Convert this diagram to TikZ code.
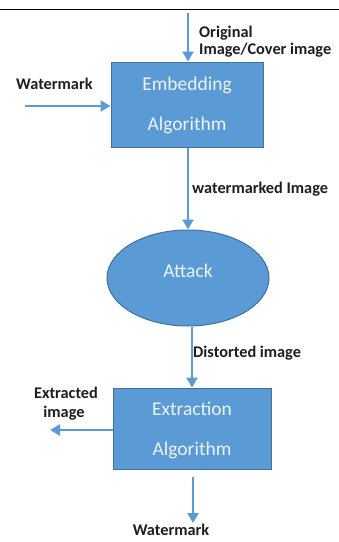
\documentclass[tikz,border=0pt]{standalone}
\usepackage{fontspec}
\setmainfont{Carlito}
\usetikzlibrary{shapes.geometric,arrows.meta}
\definecolor{blk}{HTML}{5B9BD5}
\definecolor{bord}{HTML}{41719C}
\definecolor{lbl}{HTML}{1E1E1E}
\definecolor{wtxt}{HTML}{EEF3FA}
\begin{document}
\begin{tikzpicture}[x=1pt,y=-1pt,
  procbox/.style={draw=bord,line width=1pt,fill=blk,minimum width=152pt,minimum height=85pt,inner sep=0pt},
  attackell/.style={ellipse,draw=bord,line width=1pt,fill=blk,minimum width=162pt,minimum height=96pt,inner sep=0pt},
  btxt/.style={text=wtxt,font=\fontsize{19.5}{21}\selectfont,inner sep=0pt},
  lab/.style={text=lbl,font=\bfseries\fontsize{16.3}{18}\selectfont,inner sep=0pt,anchor=west},
  flow/.style={draw=blk,line width=2.6pt,-{Triangle[length=10pt,width=11pt]}}]
\useasboundingbox (0,0) rectangle (339,542);
\draw[line width=0.8pt,black] (0,9) -- (339,9);
% nodes
\node[procbox] (emb) at (187,104.5) {};
\node[btxt] (embA) at (187,85) {Embedding};
\node[btxt] (embB) at (187,125) {Algorithm};
\node[attackell] (att) at (188,278) {};
\node[btxt] (attT) at (188,271) {Attack};
\node[procbox,minimum width=158pt,minimum height=81pt] (ext) at (192,428.5) {};
\node[btxt] (extA) at (192,409) {Extraction};
\node[btxt] (extB) at (192,450) {Algorithm};
% labels
\node[lab] (orig1) at (199,33) {Original};
\node[lab] (orig2) at (199,50) {Image/Cover image};
\node[lab] (wm) at (16,84) {Watermark};
\node[lab] (wmi) at (192,189) {watermarked Image};
\node[lab] (dist) at (193,353) {Distorted image};
\node[lab,anchor=center] (exi1) at (66,393) {Extracted};
\node[lab,anchor=center] (exi2) at (64,413) {image};
\node[lab,anchor=center] (wmo) at (171,530) {Watermark};
% connectors
\coordinate (topin) at (188,13);
\coordinate (leftin) at (25,106);
\coordinate (leftout) at (50,430);
\coordinate (botstart) at (193,477);
\coordinate (botend) at (193,523);
\draw[flow] (topin) -- (topin |- emb.north);
\draw[flow] (leftin) -- (leftin -| emb.west);
\draw[flow] (emb.south -| att.north) -- (att.north);
\draw[flow] (att.south -| ext.north) -- (ext.north);
\draw[flow] (leftout -| ext.west) -- (leftout);
\draw[flow] (botstart) -- (botend);
\end{tikzpicture}
\end{document}
